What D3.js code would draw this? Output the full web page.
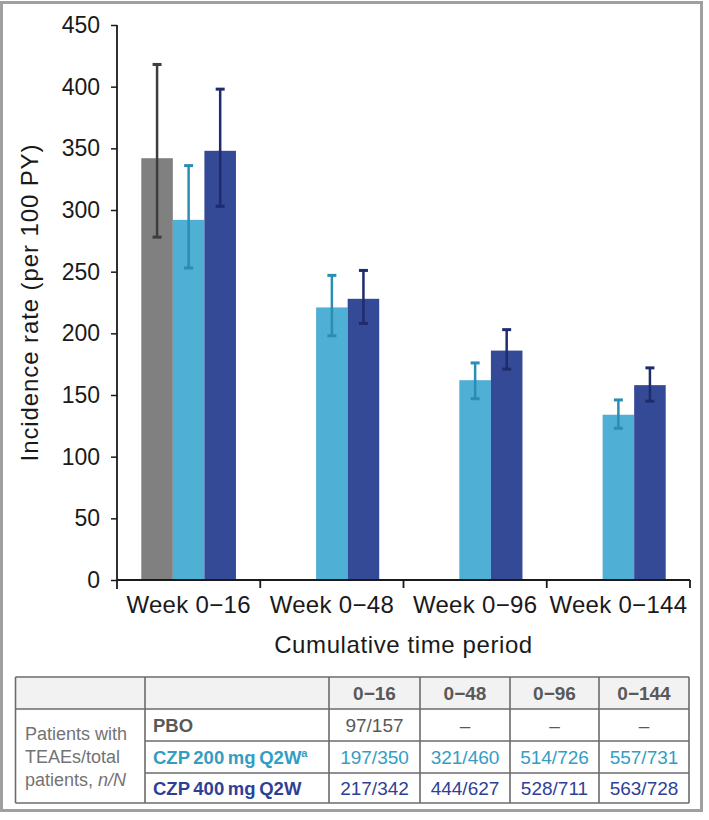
<!DOCTYPE html>
<html lang="en">
<head>
    <meta charset="UTF-8">
    <title>Incidence rate of TEAEs by cumulative time period</title>
    <script src="https://d3js.org/d3.v7.min.js"></script>
    <style>
        body {
            margin: 0;
            padding: 0;
            background: #ffffff;
            font-family: "Liberation Sans", Arial, sans-serif;
        }
        svg text {
            font-family: "Liberation Sans", Arial, sans-serif;
        }
    </style>
</head>
<body>
    <div id="chart"></div>

    <script>
        // categories and series
        const categories = ["Week 0\u221216", "Week 0\u221248", "Week 0\u221296", "Week 0\u2212144"];
        const seriesKeys = ["PBO", "CZP 200 mg Q2W", "CZP 400 mg Q2W"];

        // incidence rate (per 100 PY) with 95% CI
        const pboRate = [342, null, null, null];
        const pboLow = [278, null, null, null];
        const pboHigh = [418, null, null, null];

        const czp200Rate = [292, 221, 162, 134];
        const czp200Low = [253, 198, 147, 123];
        const czp200High = [336, 247, 176, 146];

        const czp400Rate = [348, 228, 186, 158];
        const czp400Low = [303, 208, 171, 145];
        const czp400High = [398, 251, 203, 172];

        const yTicks = [0, 50, 100, 150, 200, 250, 300, 350, 400, 450];

        // table below the chart
        const tableHeaders = ["0\u221216", "0\u221248", "0\u221296", "0\u2212144"];
        const pboCounts = ["97/157", "\u2013", "\u2013", "\u2013"];
        const czp200Counts = ["197/350", "321/460", "514/726", "557/731"];
        const czp400Counts = ["217/342", "444/627", "528/711", "563/728"];

        const barColors = ["#808080", "#4fafd4", "#344a96"];
        const errColors = ["#3d3d3d", "#2a8db2", "#1e2c6e"];
        const textColors = ["#595959", "#349dc4", "#2f3f96"];

        const width = 709;
        const height = 820;

        const svg = d3.select("#chart")
            .append("svg")
            .attr("width", width)
            .attr("height", height);

        // outer frame
        svg.append("rect")
            .attr("x", 1.5)
            .attr("y", 2.5)
            .attr("width", 700)
            .attr("height", 808)
            .attr("fill", "#ffffff")
            .attr("stroke", "#a0a0a0")
            .attr("stroke-width", 3);

        const plotLeft = 117, plotRight = 690, plotTop = 25, plotBottom = 580;

        const x = d3.scaleBand()
            .domain(categories)
            .range([plotLeft, plotRight])
            .padding(0);

        const xSub = d3.scaleBand()
            .domain(seriesKeys)
            .range([0, x.bandwidth()])
            .paddingInner(0)
            .paddingOuter(0.77);

        const y = d3.scaleLinear()
            .domain([0, 450])
            .range([plotBottom, plotTop]);

        const series = [
            { key: seriesKeys[0], rate: pboRate, low: pboLow, high: pboHigh },
            { key: seriesKeys[1], rate: czp200Rate, low: czp200Low, high: czp200High },
            { key: seriesKeys[2], rate: czp400Rate, low: czp400Low, high: czp400High }
        ];

        const points = [];
        series.forEach((s, si) => {
            categories.forEach((c, ci) => {
                if (s.rate[ci] == null) return;
                points.push({ cat: c, key: s.key, si: si, v: s.rate[ci], lo: s.low[ci], hi: s.high[ci] });
            });
        });

        // bars
        svg.append("g")
            .selectAll("rect")
            .data(points)
            .enter()
            .append("rect")
            .attr("x", d => x(d.cat) + xSub(d.key))
            .attr("y", d => y(d.v))
            .attr("width", xSub.bandwidth())
            .attr("height", d => y(0) - y(d.v))
            .attr("fill", d => barColors[d.si]);

        // error bars
        const err = svg.append("g")
            .selectAll("g")
            .data(points)
            .enter()
            .append("g")
            .attr("stroke", d => errColors[d.si])
            .attr("stroke-width", 2.5);

        const cx = d => x(d.cat) + xSub(d.key) + xSub.bandwidth() / 2;
        const capW = 4.5;

        err.append("line")
            .attr("x1", cx).attr("x2", cx)
            .attr("y1", d => y(d.lo)).attr("y2", d => y(d.hi));
        err.append("line")
            .attr("x1", d => cx(d) - capW).attr("x2", d => cx(d) + capW)
            .attr("y1", d => y(d.hi)).attr("y2", d => y(d.hi))
            .attr("stroke-width", 3);
        err.append("line")
            .attr("x1", d => cx(d) - capW).attr("x2", d => cx(d) + capW)
            .attr("y1", d => y(d.lo)).attr("y2", d => y(d.lo))
            .attr("stroke-width", 3);

        // y axis
        const yAxis = svg.append("g")
            .attr("transform", `translate(${plotLeft},0)`)
            .call(d3.axisLeft(y).tickValues(yTicks).tickSize(6).tickSizeOuter(0).tickPadding(11));
        yAxis.select(".domain").remove();
        yAxis.selectAll("line").attr("stroke", "#1a1a1a").attr("stroke-width", 1.5);
        yAxis.selectAll("text")
            .attr("font-size", 23)
            .attr("fill", "#1a1a1a");

        svg.append("line")
            .attr("x1", plotLeft).attr("x2", plotLeft)
            .attr("y1", plotTop).attr("y2", plotBottom + 9)
            .attr("stroke", "#1a1a1a")
            .attr("stroke-width", 1.8);

        // x axis
        svg.append("line")
            .attr("x1", plotLeft).attr("x2", plotRight)
            .attr("y1", plotBottom).attr("y2", plotBottom)
            .attr("stroke", "#1a1a1a")
            .attr("stroke-width", 1.8);

        const bounds = categories.map(c => x(c) + x.bandwidth());
        svg.append("g")
            .selectAll("line")
            .data(bounds)
            .enter()
            .append("line")
            .attr("x1", d => d).attr("x2", d => d)
            .attr("y1", plotBottom).attr("y2", plotBottom + 8)
            .attr("stroke", "#1a1a1a")
            .attr("stroke-width", 1.8);

        const xAxis = svg.append("g")
            .attr("transform", `translate(0,${plotBottom})`)
            .call(d3.axisBottom(x).tickSize(0).tickPadding(16));
        xAxis.select(".domain").remove();
        xAxis.selectAll("text")
            .attr("font-size", 24)
            .attr("letter-spacing", 0.3)
            .attr("fill", "#1a1a1a");

        // axis titles
        svg.append("text")
            .attr("transform", `translate(38,${(plotTop + plotBottom) / 2}) rotate(-90)`)
            .attr("text-anchor", "middle")
            .attr("font-size", 24)
            .attr("letter-spacing", 0.9)
            .attr("fill", "#1a1a1a")
            .text("Incidence rate (per 100 PY)");

        svg.append("text")
            .attr("x", (plotLeft + plotRight) / 2)
            .attr("y", 653)
            .attr("text-anchor", "middle")
            .attr("font-size", 24)
            .attr("letter-spacing", 0.6)
            .attr("fill", "#1a1a1a")
            .text("Cumulative time period");

        // table
        const colX = [15.5, 145, 329, 420, 510, 599, 689];
        const rowY = [677, 709, 741, 773, 803];
        const table = svg.append("g");

        table.append("rect")
            .attr("x", colX[0]).attr("y", rowY[0])
            .attr("width", colX[6] - colX[0]).attr("height", rowY[1] - rowY[0])
            .attr("fill", "#f2f2f2");

        const gridColor = "#6b6b6b";
        // horizontal lines
        table.append("line")
            .attr("x1", colX[0]).attr("x2", colX[6])
            .attr("y1", rowY[0]).attr("y2", rowY[0]);
        table.append("line")
            .attr("x1", colX[0]).attr("x2", colX[6])
            .attr("y1", rowY[1]).attr("y2", rowY[1]);
        table.append("line")
            .attr("x1", colX[1]).attr("x2", colX[6])
            .attr("y1", rowY[2]).attr("y2", rowY[2]);
        table.append("line")
            .attr("x1", colX[1]).attr("x2", colX[6])
            .attr("y1", rowY[3]).attr("y2", rowY[3]);
        table.append("line")
            .attr("x1", colX[0]).attr("x2", colX[6])
            .attr("y1", rowY[4]).attr("y2", rowY[4]);
        colX.forEach(cxv => {
            table.append("line")
                .attr("x1", cxv).attr("x2", cxv)
                .attr("y1", rowY[0]).attr("y2", rowY[4]);
        });
        table.selectAll("line")
            .attr("stroke", gridColor)
            .attr("stroke-width", 1.6);

        // header
        tableHeaders.forEach((h, i) => {
            table.append("text")
                .attr("x", (colX[i + 2] + colX[i + 3]) / 2)
                .attr("y", (rowY[0] + rowY[1]) / 2 + 7)
                .attr("text-anchor", "middle")
                .attr("font-size", 19)
                .attr("font-weight", "bold")
                .attr("fill", "#595959")
                .text(h);
        });

        // row label
        const rowLabel = table.append("text")
            .attr("x", 25)
            .attr("font-size", 18)
            .attr("fill", "#737373");
        rowLabel.append("tspan").attr("x", 25).attr("y", 740).text("Patients with");
        rowLabel.append("tspan").attr("x", 25).attr("y", 763).text("TEAEs/total");
        const l3 = rowLabel.append("tspan").attr("x", 25).attr("y", 786);
        l3.text("patients, ");
        rowLabel.append("tspan").attr("font-style", "italic").text("n/N");

        const countRows = [pboCounts, czp200Counts, czp400Counts];
        countRows.forEach((row, ri) => {
            const ty = (rowY[ri + 1] + rowY[ri + 2]) / 2 + 7;
            const name = table.append("text")
                .attr("x", 153)
                .attr("y", ty)
                .attr("font-size", 18.5)
                .attr("font-weight", "bold")
                .attr("word-spacing", -1.5)
                .attr("fill", textColors[ri])
                .text(ri === 0 ? "PBO" : seriesKeys[ri]);
            if (ri === 1) {
                name.append("tspan")
                    .attr("font-size", 11)
                    .attr("dy", -7)
                    .text("a");
            }
            row.forEach((v, ci) => {
                table.append("text")
                    .attr("x", (colX[ci + 2] + colX[ci + 3]) / 2)
                    .attr("y", ty)
                    .attr("text-anchor", "middle")
                    .attr("font-size", 19)
                    .attr("fill", textColors[ri])
                    .text(v);
            });
        });
    </script>
</body>
</html>
